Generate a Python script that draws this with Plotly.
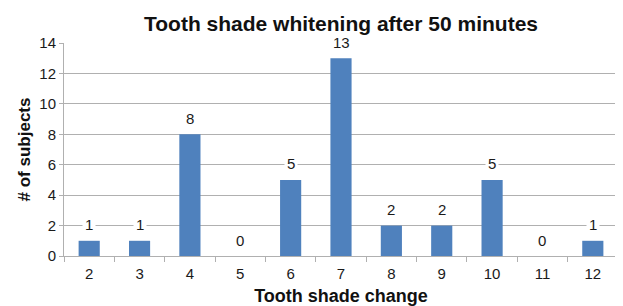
import plotly.graph_objects as go

categories = ["2", "3", "4", "5", "6", "7", "8", "9", "10", "11", "12"]
subjects = [1, 1, 8, 0, 5, 13, 2, 2, 5, 0, 1]
y_ticks = [0, 2, 4, 6, 8, 10, 12, 14]

title_text = "Tooth shade whitening after 50 minutes"
x_title = "Tooth shade change"
y_title = "# of subjects"

FONT = "Liberation Sans, Arial, sans-serif"
GRID = "#B0B0B0"

W, H = 615, 298  # page body has an 8px margin

fig = go.Figure()
fig.add_trace(go.Bar(
    x=categories, y=subjects,
    marker=dict(color="#4F81BD", line=dict(width=0)),
    hoverinfo="x+y",
))

for i, v in enumerate(subjects):
    fig.add_annotation(
        x=i, y=v, xref="x", yref="y", text=str(v), showarrow=False,
        yshift=16, yanchor="middle", xanchor="center",
        bgcolor="white", borderpad=2,
        font=dict(family=FONT, size=15, color="#1a1a1a"),
    )

fig.update_layout(
    width=W, height=H,
    margin=dict(l=56, r=5, t=35, b=50, autoexpand=False),
    paper_bgcolor="white", plot_bgcolor="white",
    bargap=0.58,
    showlegend=False,
    font=dict(family=FONT, color="#1a1a1a"),
    title=dict(
        text="<b>" + title_text + "</b>",
        x=333 / W, xanchor="center",
        y=1 - 16 / H, yanchor="middle",
        font=dict(family=FONT, size=21, color="#111111"),
    ),
    xaxis=dict(
        type="category",
        automargin=False,
        title=dict(text="<b>" + x_title + "</b>", font=dict(family=FONT, size=18, color="#111111"), standoff=8),
        tickfont=dict(family=FONT, size=15, color="#1a1a1a"),
        ticklabelstandoff=4,
        showline=True, linecolor=GRID, linewidth=1,
        ticks="outside", tickson="boundaries", ticklen=5, tickcolor=GRID,
        showgrid=False,
    ),
    yaxis=dict(
        range=[0, 14],
        automargin=False,
        tickvals=y_ticks,
        title=dict(text="<b>" + y_title + "</b>", font=dict(family=FONT, size=17, color="#111111"), standoff=4),
        tickfont=dict(family=FONT, size=15, color="#1a1a1a"),
        showline=True, linecolor=GRID, linewidth=1,
        ticks="outside", ticklen=4, tickcolor=GRID,
        showgrid=True, gridcolor=GRID, gridwidth=1,
        zeroline=False,
    ),
)

fig.write_html("out.html")
